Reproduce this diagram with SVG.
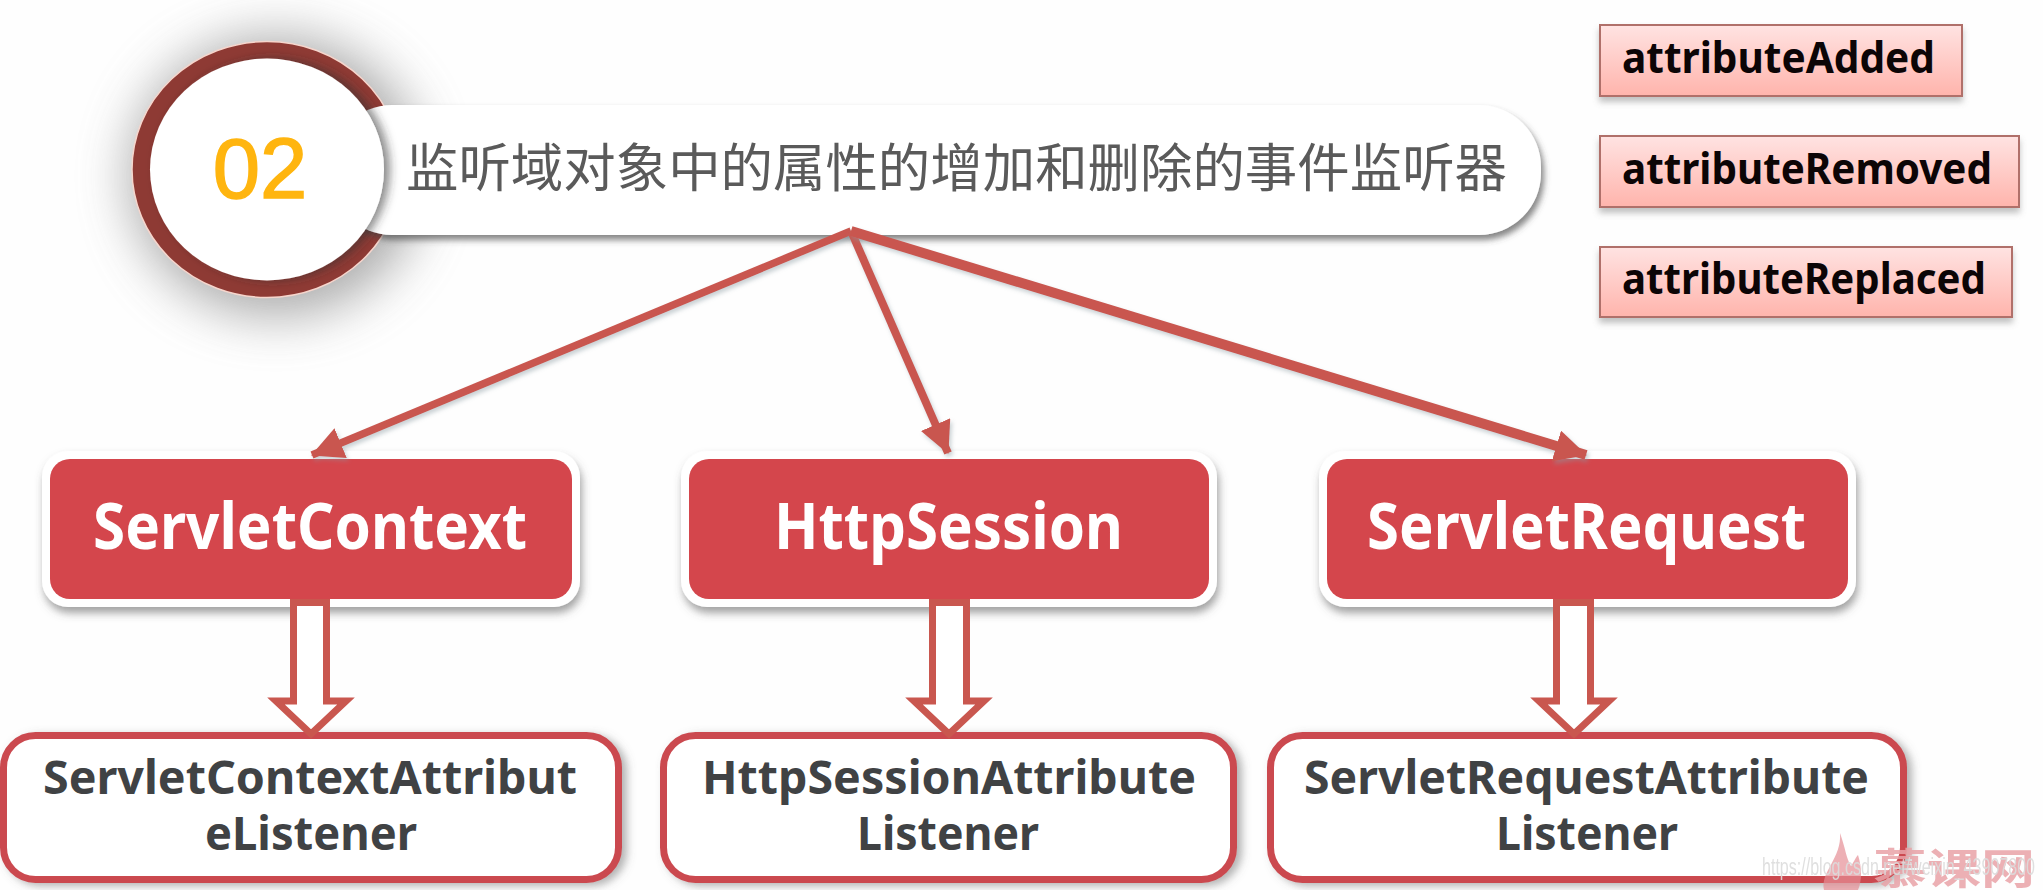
<svg xmlns="http://www.w3.org/2000/svg" width="2043" height="890" viewBox="0 0 2043 890">
<style>
.lat{font-family:"Noto Sans","Open Sans","Liberation Sans",sans-serif;font-weight:700}
.red{fill:#d4464c;stroke:#fff;stroke-width:0}
.halo{fill:#fff;filter:url(#sh)}
.rt{font-size:64px;fill:#fff}
.lb{fill:#fff;stroke:#cb4a50;stroke-width:7;filter:url(#sh2)}
.lt{font-size:46px;fill:#404244}
.ev{fill:url(#pk);stroke:#b0706a;stroke-width:2;filter:url(#sh3)}
.et{font-size:43px;fill:#0c0506}
.thin{fill:none;stroke:#c9574f;marker-end:url(#ah);filter:url(#sh4)}
.dbl{fill:#fff;stroke:#c9574f;stroke-width:7;stroke-linejoin:miter}
</style>
<defs>
<linearGradient id="pk" x1="0" y1="0" x2="0" y2="1"><stop offset="0" stop-color="#ffe3e2"/><stop offset="1" stop-color="#ffb4ac"/></linearGradient>
<filter id="sh" x="-10%" y="-20%" width="120%" height="150%"><feDropShadow dx="2" dy="6" stdDeviation="4" flood-color="#555" flood-opacity=".55"/></filter>
<filter id="sh2" x="-5%" y="-10%" width="112%" height="125%"><feDropShadow dx="5" dy="3" stdDeviation="4" flood-color="#666" flood-opacity=".5"/></filter>
<filter id="sh3" x="-5%" y="-10%" width="110%" height="135%"><feDropShadow dx="0" dy="5" stdDeviation="3" flood-color="#777" flood-opacity=".45"/></filter>
<filter id="sh4" x="-20%" y="-20%" width="140%" height="140%"><feDropShadow dx="2" dy="3" stdDeviation="2" flood-color="#8a9aa0" flood-opacity=".45"/></filter>
<filter id="sh5" x="-30%" y="-30%" width="160%" height="160%"><feGaussianBlur stdDeviation="26"/></filter>
<filter id="sh6" x="-5%" y="-20%" width="110%" height="150%"><feDropShadow dx="3" dy="5" stdDeviation="3" flood-color="#444" flood-opacity=".65"/></filter>
<filter id="sh7" x="-15%" y="-15%" width="130%" height="130%"><feDropShadow dx="6" dy="0" stdDeviation="5" flood-color="#333" flood-opacity=".55"/></filter>
<marker id="ah" markerUnits="userSpaceOnUse" viewBox="0 0 32 32" markerWidth="32" markerHeight="32" refX="31" refY="16" orient="auto"><path d="M0 0L32 16L0 32Z" fill="#c9574f"/></marker>
</defs>
<rect width="2043" height="890" fill="#fefefe"/>

<g id="badge-ring">
<ellipse cx="276" cy="176" rx="146" ry="140" fill="#777" opacity=".62" filter="url(#sh5)"/>
<ellipse cx="267" cy="169.5" rx="135" ry="128" fill="#8e3a34" stroke="#f6d5cc" stroke-width="1.5"/>
</g>
<g id="title">
<rect x="330" y="105" width="1211" height="130" rx="62" ry="62" fill="#fff" filter="url(#sh6)"/>
<text x="406" y="187" font-size="52" textLength="1101" lengthAdjust="spacingAndGlyphs" fill="#5a5a5a" font-weight="400" style="font-family:'Noto Sans CJK SC','Noto Sans',sans-serif">监听域对象中的属性的增加和删除的事件监听器</text>
</g>
<g id="badge">
<ellipse cx="267" cy="169.5" rx="117" ry="111" fill="#fff" filter="url(#sh7)"/>
<text x="260" y="198" font-size="85" text-anchor="middle" fill="#ffb50f" stroke="#ffb50f" stroke-width="1.5" style="font-family:'Liberation Sans',sans-serif">02</text>
</g>

<g id="attributeAdded">
<rect class="ev" x="1600" y="25" width="362" height="71"/>
<text class="lat et" x="1622" y="73" textLength="313" lengthAdjust="spacingAndGlyphs">attributeAdded</text>
</g>
<g id="attributeRemoved">
<rect class="ev" x="1600" y="136" width="419" height="71"/>
<text class="lat et" x="1622" y="184" textLength="370" lengthAdjust="spacingAndGlyphs">attributeRemoved</text>
</g>
<g id="attributeReplaced">
<rect class="ev" x="1600" y="247" width="412" height="70"/>
<text class="lat et" x="1622" y="294" textLength="364" lengthAdjust="spacingAndGlyphs">attributeReplaced</text>
</g>

<g id="ServletContext">
<rect class="halo" x="42" y="451" width="538" height="156" rx="26"/>
<rect class="red" x="50" y="459" width="522" height="140" rx="20"/>
<text class="lat rt" x="93" y="549" textLength="434" lengthAdjust="spacingAndGlyphs">ServletContext</text>
</g>
<g id="HttpSession">
<rect class="halo" x="681" y="451" width="536" height="156" rx="26"/>
<rect class="red" x="689" y="459" width="520" height="140" rx="20"/>
<text class="lat rt" x="774" y="549" textLength="349" lengthAdjust="spacingAndGlyphs">HttpSession</text>
</g>
<g id="ServletRequest">
<rect class="halo" x="1319" y="451" width="537" height="156" rx="26"/>
<rect class="red" x="1327" y="459" width="521" height="140" rx="20"/>
<text class="lat rt" x="1367" y="549" textLength="439" lengthAdjust="spacingAndGlyphs">ServletRequest</text>
</g>

<g id="ServletContextAttributeListener">
<rect class="lb" x="3.5" y="735.5" width="615" height="144" rx="32"/>
<text class="lat lt" x="43" y="794" textLength="534" lengthAdjust="spacingAndGlyphs">ServletContextAttribut</text>
<text class="lat lt" x="205" y="850" textLength="212" lengthAdjust="spacingAndGlyphs">eListener</text>
</g>
<g id="HttpSessionAttributeListener">
<rect class="lb" x="663.5" y="735.5" width="570" height="144" rx="32"/>
<text class="lat lt" x="702" y="794" textLength="494" lengthAdjust="spacingAndGlyphs">HttpSessionAttribute</text>
<text class="lat lt" x="857" y="850" textLength="182" lengthAdjust="spacingAndGlyphs">Listener</text>
</g>
<g id="ServletRequestAttributeListener">
<rect class="lb" x="1270.5" y="735.5" width="633" height="144" rx="32"/>
<text class="lat lt" x="1304" y="794" textLength="565" lengthAdjust="spacingAndGlyphs">ServletRequestAttribute</text>
<text class="lat lt" x="1496" y="850" textLength="182" lengthAdjust="spacingAndGlyphs">Listener</text>
</g>

<g id="connectors">
<line class="thin" x1="851" y1="231" x2="312" y2="455" stroke-width="7.5"/>
<line class="thin" x1="851" y1="231" x2="948" y2="453" stroke-width="8"/>
<line class="thin" x1="851" y1="231" x2="1586" y2="455" stroke-width="10"/>
<path class="dbl" d="M293.5 602.5V701H276L311 734L346 701H326.5V602.5Z"/>
<path class="dbl" d="M932.5 602.5V701H914L949 734L984 701H966.5V602.5Z"/>
<path class="dbl" d="M1556.5 602.5V701H1539L1574 734L1609 701H1590.5V602.5Z"/>
</g>

<g id="watermark">
<path d="M1840 833C1846 850 1846 858 1851 866C1855 860 1856 857 1858 855C1862 868 1862 880 1858 890H1824C1820 872 1842 858 1840 833Z" fill="#e58f96" opacity=".7"/>
<text x="1873" y="884" font-size="42" font-weight="700" textLength="162" lengthAdjust="spacingAndGlyphs" fill="#e9a3a8" opacity=".85" style="font-family:'Noto Sans CJK SC',sans-serif">慕课网</text>
<text x="1762" y="875" font-size="23" textLength="273" lengthAdjust="spacingAndGlyphs" fill="#dcdcdc" opacity=".9" style="font-family:'Liberation Sans',sans-serif">https://blog.csdn.net/weixin_43907800</text>
</g>
</svg>
